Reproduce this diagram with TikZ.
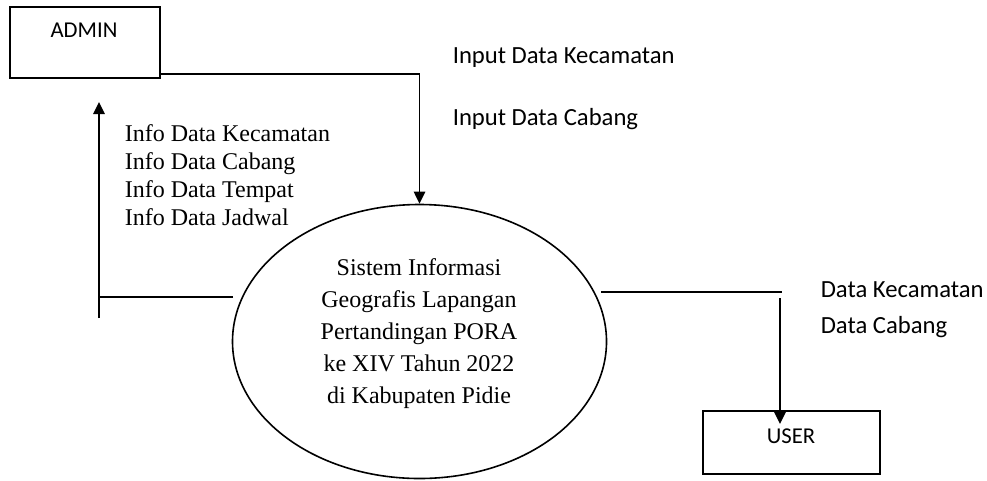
\documentclass[tikz,border=0pt]{standalone}
\usepackage{fontspec}
\setmainfont{Liberation Serif}
\newfontfamily\labelsans{Carlito}
\usetikzlibrary{arrows.meta,shapes.geometric,calc}

\tikzset{
  entity/.style={draw, rectangle, inner sep=0pt},
  process/.style={draw, ellipse, inner sep=0pt},
  entitytext/.style={font=\labelsans\fontsize{17}{20}\selectfont, inner sep=0pt},
  proctext/.style={font=\fontsize{18}{24}\selectfont, align=center, inner sep=0pt},
  infotext/.style={font=\fontsize{18}{21}\selectfont, align=left, inner sep=0pt},
  flowtext/.style={font=\labelsans\fontsize{18.5}{22}\selectfont, inner sep=0pt, anchor=base west},
  flow/.style={-{Triangle[length=9pt,width=8.5pt]}},
}

\begin{document}
\begin{tikzpicture}[x=0.75pt, y=-0.75pt, line width=1.2pt]
\useasboundingbox (0,0) rectangle (987,480);

% external entities and the process
\node[entity, minimum width=112.5pt, minimum height=53.25pt] (admin) at (85,42.5) {};
\node[entitytext] (admintxt) at (84,30) {ADMIN};

\node[process, minimum width=280.5pt, minimum height=205.5pt] (proc) at (419.5,341.5) {};
\node[proctext] (proctxt) at (419,334) {Sistem Informasi\\Geografis Lapangan\\Pertandingan PORA\\ke XIV Tahun 2022\\di Kabupaten Pidie};

\node[entity, minimum width=132.75pt, minimum height=47.25pt] (user) at (791.5,442.5) {};
\node[entitytext] (usertxt) at (791,436) {USER};

% admin -> process
\coordinate (adminout) at ($(admin.south east)+(0,-5)$);
\draw[flow] (adminout) -| (proc.north);
\node[flowtext] (in1) at (452,63) {Input Data Kecamatan};
\node[flowtext] (in2) at (452,125) {Input Data Cabang};

% process -> admin
\coordinate (retstart) at (233,297);
\coordinate (retcorner) at (99,297);
\coordinate (rettail) at (99,318);
\coordinate (rethead) at (99,102);
\draw (retstart) -- (retcorner);
\draw[flow] (rettail) -- (rethead);
\node[infotext, anchor=north west] (info) at (124,124) {Info Data Kecamatan\\Info Data Cabang\\Info Data Tempat\\Info Data Jadwal};

% process -> user
\coordinate (outstart) at (601,292);
\coordinate (outend) at (782,292);
\coordinate (downstart) at (780,298);
\coordinate (downend) at (780,424);
\draw (outstart) -- (outend);
\draw[flow] (downstart) -- (downend);
\node[flowtext] (out1) at (820,297) {Data Kecamatan};
\node[flowtext] (out2) at (820,333) {Data Cabang};
\end{tikzpicture}
\end{document}
